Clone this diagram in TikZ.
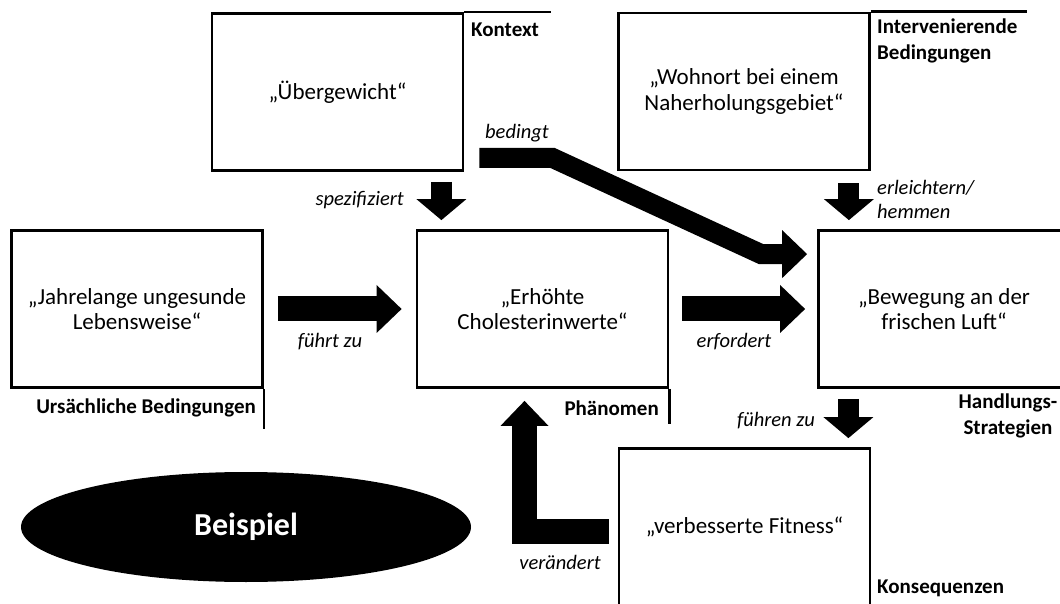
\documentclass[tikz,border=0pt]{standalone}
\usepackage{fontspec}
\setmainfont{Carlito}
\usetikzlibrary{arrows.meta,shapes.geometric,calc}

\tikzstyle{field} = [draw,line width=2.8pt,minimum width=251pt,minimum height=157pt,align=center,font=\fontsize{23}{25.5}\selectfont]
\tikzstyle{fieldname} = [inner sep=0pt,font=\bfseries\fontsize{21}{26}\selectfont]
\tikzstyle{edgelabel} = [inner sep=0pt,font=\itshape\fontsize{20.5}{24}\selectfont]
\tikzstyle{blockarrow} = [line width=25pt,line join=miter,-{Triangle[length=25pt,width=48pt,line width=0pt]}]
\tikzstyle{downarrow} = [line width=21pt,-{Triangle[length=21pt,width=50pt,line width=0pt]}]

\begin{document}
\begin{tikzpicture}[x=1pt,y=1pt]
	\useasboundingbox (0,0) rectangle (1060,603);
	% Felder
	\node[field] (kon) at (337.5,511) {„Übergewicht“};
	\node[field] (int) at (744,511.5) {„Wohnort bei einem\\Naherholungsgebiet“};
	\node[field] (urs) at (137,294) {„Jahrelange ungesunde\\Lebensweise“};
	\node[field] (phae) at (542.5,294) {„Erhöhte\\Cholesterinwerte“};
	\node[field] (hand) at (944,294) {„Bewegung an der\\frischen Luft“};
	\node[field] (kons) at (744.5,76) {„verbesserte Fitness“};
	\node[ellipse,fill=black,minimum width=450pt,minimum height=110pt,text=white,
		font=\bfseries\fontsize{32}{36}\selectfont] (bsp) at (246,76) {Beispiel};
	% Namen der Felder
	\node[fieldname,anchor=west] (konname) at (471,573) {Kontext};
	\node[fieldname,anchor=west,align=left] (intname) at (877,562) {Intervenierende\\Bedingungen};
	\node[fieldname,anchor=east] (ursname) at (256,195) {Ursächliche Bedingungen};
	\node[fieldname,anchor=east] (phaename) at (659,195) {Phänomen};
	\node[fieldname,align=center] (handname) at (1008,187) {Handlungs-\\Strategien};
	\node[fieldname,anchor=west] (konsname) at (877,15) {Konsequenzen};
	\draw[line width=2.8pt] (kon.north east) -- ++(87,0);
	\draw[line width=2.8pt] (int.north east) -- ++(156,0);
	\draw[line width=2.8pt] (urs.south east) -- ++(0,-40);
	\draw[line width=2.8pt] (phae.south east) -- ++(0,-35);
	% Beziehungen
	\node[edgelabel,anchor=east] (l1) at (404,403) {spezifiziert};
	\node[edgelabel,anchor=west,align=left] (l2) at (877,404) {erleichtern/\\hemmen};
	\node[edgelabel,anchor=west] (l3) at (485,470) {bedingt};
	\node[edgelabel] (l4) at (330,261) {führt zu};
	\node[edgelabel] (l5) at (734,261) {erfordert};
	\node[edgelabel,anchor=east] (l6) at (815,182) {führen zu};
	\node[edgelabel] (l7) at (560,41) {verändert};
	\draw[downarrow] ($(kon.south east)+(-23,-10)$) -- ($(kon.south east |- phae.north)+(-23,9)$);
	\draw[downarrow] ($(int.south east)+(-22,-12)$) -- ($(int.south east |- hand.north)+(-22,9)$);
	\draw[downarrow] ($(kons.north east |- hand.south)+(-23,-10)$) -- ($(kons.north east)+(-23,9)$);
	\draw[blockarrow] ($(urs.east)+(14,0)$) -- ($(phae.west)+(-14,0)$);
	\draw[blockarrow] ($(phae.east)+(13,0)$) -- ($(hand.west)+(-12,0)$);
	\draw[blockarrow,line width=20pt] ($(kon.south east)+(15,14)$) -- ++(73,0)
		-- ($(hand.north west)+(-56,-25)$) -- ($(hand.north west)+(-10,-25)$);
	\draw[blockarrow] ($(kons.west)+(-9,-4)$) -| ($(phae.south)+(-18,-12)$);
\end{tikzpicture}
\end{document}
